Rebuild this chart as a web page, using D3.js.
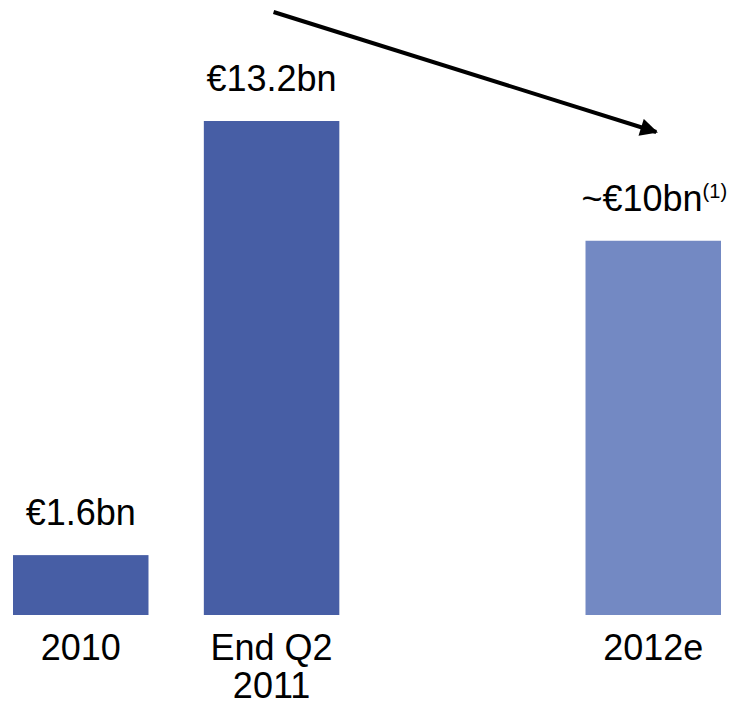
<!DOCTYPE html>
<html>
<head>
<meta charset="utf-8">
<script src="https://cdn.jsdelivr.net/npm/d3@7"></script>
<style>
  html, body { margin: 0; padding: 0; background: #fff; }
  svg text { font-family: "Liberation Sans", Arial, sans-serif; fill: #000; }
</style>
</head>
<body>
<div id="chart"></div>
<script>
// chart data
var categories = ['2010', 'End Q2 2011', '', '2012e'];
var labelLines = [['2010'], ['End Q2', '2011'], [], ['2012e']];
var values = [1.6, 13.2, null, 10];
var valueLabels = ['€1.6bn', '€13.2bn', '', '~€10bn'];
var footnotes = ['', '', '', '(1)'];
var estimate = [false, false, false, true];

var width = 736, height = 705;
var baseY = 615;

var svg = d3.select('#chart').append('svg')
  .attr('width', width).attr('height', height);

// slot per category, the empty one keeps the gap before 2012e
var x = d3.scaleBand().domain(d3.range(categories.length))
  .range([13, 721]).paddingInner(0.29).paddingOuter(0);

var y = d3.scaleLinear().domain([0, 13.2]).range([baseY, 121]);

var idx = d3.range(categories.length).filter(function (i) { return values[i] != null; });

// bars
svg.selectAll('rect.bar').data(idx).enter().append('rect')
  .attr('class', 'bar')
  .attr('x', function (i) { return x(i); })
  .attr('y', function (i) { return y(values[i]); })
  .attr('width', x.bandwidth())
  .attr('height', function (i) { return baseY - y(values[i]); })
  .style('fill', function (i) { return estimate[i] ? '#7389C3' : '#475EA5'; });

// value labels above bars
var vl = svg.selectAll('text.val').data(idx).enter().append('text')
  .attr('class', 'val')
  .attr('x', function (i) { return x(i) + x.bandwidth() / 2 + (footnotes[i] ? 1 : 0); })
  .attr('y', function (i) { return y(values[i]) - 30; })
  .attr('text-anchor', 'middle')
  .style('font-size', '36px');
vl.append('tspan').text(function (i) { return valueLabels[i]; });
vl.append('tspan')
  .attr('dy', -13)
  .style('font-size', '20px')
  .text(function (i) { return footnotes[i]; });

// category labels below bars
idx.forEach(function (i) {
  labelLines[i].forEach(function (line, k) {
    svg.append('text')
      .attr('x', x(i) + x.bandwidth() / 2)
      .attr('y', baseY + 45 + k * 38)
      .attr('text-anchor', 'middle')
      .style('font-size', '36px')
      .text(line);
  });
});

// trend arrow from the 2011 peak down toward the 2012 estimate
svg.append('defs').append('marker')
  .attr('id', 'head')
  .attr('viewBox', '0 0 10 10')
  .attr('refX', 9).attr('refY', 5)
  .attr('markerWidth', 5).attr('markerHeight', 4.4)
  .attr('markerUnits', 'strokeWidth')
  .attr('orient', 'auto')
  .append('path').attr('d', 'M0,0 L10,5 L0,10 z').style('fill', '#000');

svg.append('line')
  .attr('x1', x(1) + x.bandwidth() / 2 + 2).attr('y1', 12)
  .attr('x2', x(3) + x.bandwidth() / 2 + 3).attr('y2', 132)
  .style('stroke', '#000').style('stroke-width', 4)
  .attr('marker-end', 'url(#head)');
</script>
</body>
</html>
